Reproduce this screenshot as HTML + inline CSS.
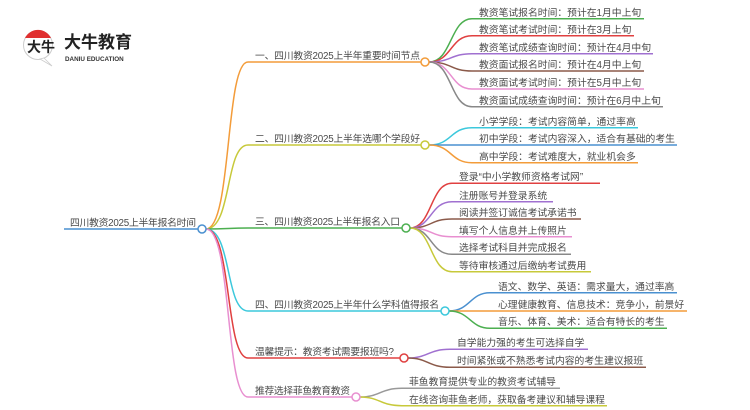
<!DOCTYPE html>
<html><head><meta charset="utf-8"><style>
html,body{margin:0;padding:0;background:#fff;}
svg{display:block;}
text{font-family:"Liberation Sans","Noto Sans CJK SC",sans-serif;font-size:9.8px;fill:#4a4a4a;}
</style></head><body>
<svg width="750" height="410" viewBox="0 0 750 410" xmlns="http://www.w3.org/2000/svg">
<!-- logo -->
<circle cx="38" cy="45" r="14.5" fill="#fff" stroke="#ccc" stroke-width="1"/>
<path d="M25,38 A14.5,14.5 0 0 1 51,38 Z" fill="#e03030"/>
<path d="M44,58 L52,66 L40,59 Z" fill="#fff" stroke="#ccc" stroke-width="0.8"/>
<text x="27" y="52" style="font-size:14px;fill:#222;font-weight:bold">大牛</text>
<text x="64" y="48" style="font-size:17px;font-weight:bold;fill:#222">大牛教育</text>
<text x="65" y="61" style="font-size:6.3px;fill:#333;font-weight:bold">DANIU EDUCATION</text>

<g fill="none" stroke-width="1.5">
<path d="M64,229 H198" stroke="#4a90d0"/>
<path d="M206,229 C232,229 225,62 248,62 H421" stroke="#f39c3a"/>
<path d="M206,229 C232,229 225,145 248,145 H421" stroke="#c7c93a"/>
<path d="M206,229 C228,229 228,228 248,228 H402" stroke="#4caf50"/>
<path d="M206,229 C232,229 225,311 248,311 H441" stroke="#3cc8dc"/>
<path d="M206,229 C232,229 225,358 248,358 H400" stroke="#e04040"/>
<path d="M206,229 C232,229 225,397 248,397 H352" stroke="#e88fd0"/>
<path d="M429,62 C452,62 450,18.7 472,18.7 H644" stroke="#4caf50"/>
<path d="M429,62 C452,62 450,35.7 472,35.7 H634" stroke="#e04040"/>
<path d="M429,62 C452,62 450,53.7 472,53.7 H653" stroke="#a070d0"/>
<path d="M429,62 C452,62 450,71 472,71 H644" stroke="#8b5a4a"/>
<path d="M429,62 C452,62 450,89 472,89 H644" stroke="#e88fd0"/>
<path d="M429,62 C452,62 450,106.7 472,106.7 H663" stroke="#888"/>
<path d="M429,145 C452,145 450,127.7 472,127.7 H638" stroke="#3cc8dc"/>
<path d="M429,145 H677" stroke="#4a90d0"/>
<path d="M429,145 C452,145 450,162.7 472,162.7 H638" stroke="#f39c3a"/>
<path d="M410,228 C432,228 430,183.3 452,183.3 H600" stroke="#e04040"/>
<path d="M410,228 C432,228 430,201.7 452,201.7 H553" stroke="#a070d0"/>
<path d="M410,228 C432,228 430,219 452,219 H581" stroke="#8b5a4a"/>
<path d="M410,228 C432,228 430,236.7 452,236.7 H572" stroke="#e88fd0"/>
<path d="M410,228 C432,228 430,254.3 452,254.3 H571" stroke="#888"/>
<path d="M410,228 C432,228 430,271.7 452,271.7 H591" stroke="#c7c93a"/>
<path d="M449,311 C470,311 470,292.7 490,292.7 H677" stroke="#4a90d0"/>
<path d="M449,311 H687" stroke="#f39c3a"/>
<path d="M449,311 C470,311 470,328.3 490,328.3 H667" stroke="#4caf50"/>
<path d="M408,358 C428,358 428,349.3 450,349.3 H588" stroke="#a070d0"/>
<path d="M408,358 C428,358 428,367.3 450,367.3 H646" stroke="#8b5a4a"/>
<path d="M360,397 C380,397 380,388.3 402,388.3 H560" stroke="#999"/>
<path d="M360,397 C380,397 380,405.7 402,405.7 H607" stroke="#c7c93a"/>
</g>
<g fill="#fff" stroke-width="1.5">
<circle cx="202" cy="229" r="4" stroke="#4a90d0"/>
<circle cx="425" cy="62" r="4" stroke="#f39c3a"/>
<circle cx="425" cy="145" r="4" stroke="#c7c93a"/>
<circle cx="406" cy="228" r="4" stroke="#4caf50"/>
<circle cx="445" cy="311" r="4" stroke="#3cc8dc"/>
<circle cx="404" cy="358" r="4" stroke="#e04040"/>
<circle cx="356" cy="397" r="4" stroke="#e88fd0"/>
</g>
<text x="70" y="226" textLength="126">四川教资2025上半年报名时间</text>
<text x="255" y="59" textLength="165">一、四川教资2025上半年重要时间节点</text>
<text x="255" y="142" textLength="165">二、四川教资2025上半年选哪个学段好</text>
<text x="255" y="225" textLength="145">三、四川教资2025上半年报名入口</text>
<text x="255" y="308" textLength="184">四、四川教资2025上半年什么学科值得报名</text>
<text x="255" y="355" textLength="139">温馨提示：教资考试需要报班吗?</text>
<text x="255" y="394" textLength="95">推荐选择菲鱼教育教资</text>

<text x="479" y="16">教资笔试报名时间：预计在1月中上旬</text>
<text x="479" y="33">教资笔试考试时间：预计在3月上旬</text>
<text x="479" y="51">教资笔试成绩查询时间：预计在4月中旬</text>
<text x="479" y="68">教资面试报名时间：预计在4月中上旬</text>
<text x="479" y="86">教资面试考试时间：预计在5月中上旬</text>
<text x="479" y="104">教资面试成绩查询时间：预计在6月中上旬</text>

<text x="479" y="125">小学学段：考试内容简单，通过率高</text>
<text x="479" y="142">初中学段：考试内容深入，适合有基础的考生</text>
<text x="479" y="160">高中学段：考试难度大，就业机会多</text>

<text x="459" y="180">登录“中小学教师资格考试网”</text>
<text x="459" y="199">注册账号并登录系统</text>
<text x="459" y="216">阅读并签订诚信考试承诺书</text>
<text x="459" y="234">填写个人信息并上传照片</text>
<text x="459" y="251">选择考试科目并完成报名</text>
<text x="459" y="269">等待审核通过后缴纳考试费用</text>

<text x="498" y="290">语文、数学、英语：需求量大，通过率高</text>
<text x="498" y="308">心理健康教育、信息技术：竞争小，前景好</text>
<text x="498" y="325">音乐、体育、美术：适合有特长的考生</text>

<text x="457" y="346">自学能力强的考生可选择自学</text>
<text x="457" y="364">时间紧张或不熟悉考试内容的考生建议报班</text>

<text x="409" y="385">菲鱼教育提供专业的教资考试辅导</text>
<text x="409" y="403">在线咨询菲鱼老师，获取备考建议和辅导课程</text>
</svg>
</body></html>
